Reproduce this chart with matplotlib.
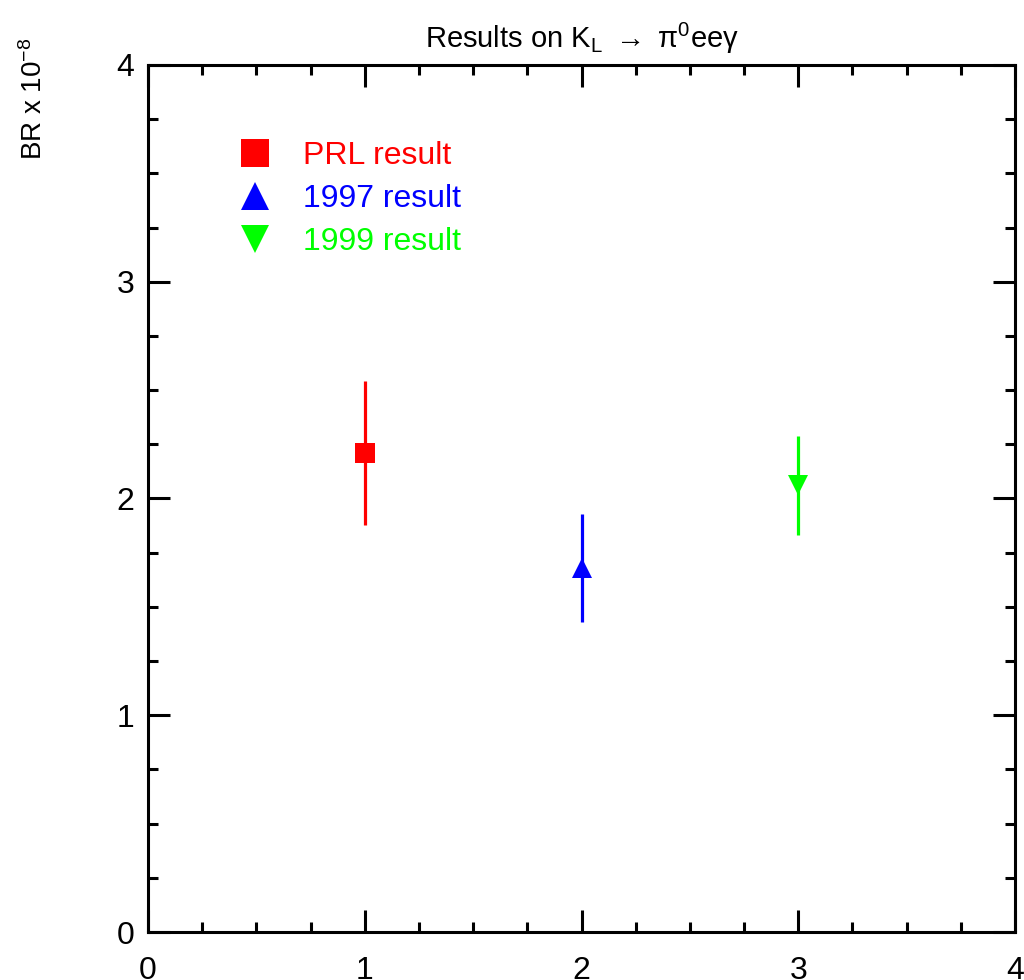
import matplotlib
matplotlib.use("Agg")
import matplotlib.pyplot as plt
from matplotlib.lines import Line2D
from matplotlib.ticker import MultipleLocator

plt.rcParams['font.family'] = ['Liberation Sans', 'DejaVu Sans']
plt.rcParams['mathtext.fontset'] = 'custom'
plt.rcParams['mathtext.rm'] = 'Liberation Sans'
plt.rcParams['mathtext.it'] = 'Liberation Sans:italic'

# data
labels = ["PRL result", "1997 result", "1999 result"]
xpos = [1, 2, 3]
br = [2.21, 1.68, 2.06]
err = [0.33, 0.25, 0.23]
colors = ["#ff0000", "#0000ff", "#00ff00"]
markers = ["s", "^", "v"]

fig = plt.figure(figsize=(10.24, 9.8), dpi=100)
ax = fig.add_axes([148/1024, 1-932/980, 867/1024, 867/980])

for x, y, e, c, m in zip(xpos, br, err, colors, markers):
    ax.errorbar(x, y, yerr=e, fmt=m, color=c, ms=15, elinewidth=2.3,
                capsize=0, mew=0)

ax.set_xlim(0, 4)
ax.set_ylim(0, 4)
ax.xaxis.set_major_locator(MultipleLocator(1))
ax.yaxis.set_major_locator(MultipleLocator(1))
ax.xaxis.set_minor_locator(MultipleLocator(0.25))
ax.yaxis.set_minor_locator(MultipleLocator(0.25))
ax.tick_params(which='both', direction='in', top=True, right=True, width=2.2)
ax.tick_params(which='major', length=16, labelsize=23)
ax.tick_params(axis='x', which='major', pad=17)
ax.tick_params(axis='y', which='major', pad=10)
ax.tick_params(which='minor', length=7.5)
for s in ax.spines.values():
    s.set_linewidth(2.2)

ax.set_title(r"Results on K$_\mathrm{L}$ $\rightarrow$ $\mathrm{\pi}^0$ee$\mathrm{\gamma}$",
             fontsize=21, pad=12)
fig.text(34/1024, 1-38/980, r"BR x 10$^{-8}$", rotation=90, fontsize=20,
         ha='center', va='top')

handles = [Line2D([], [], ls='none', marker=m, color=c, ms=20, mew=0)
           for m, c in zip(markers, colors)]
leg = ax.legend(handles, labels, loc='upper left', bbox_to_anchor=(0.1, 0.912),
                frameon=False, fontsize=23, handlelength=1.3, handletextpad=0.85,
                labelspacing=0.4, borderaxespad=0, borderpad=0)
for t, c in zip(leg.get_texts(), colors):
    t.set_color(c)

fig.savefig("out.png", dpi=100)
